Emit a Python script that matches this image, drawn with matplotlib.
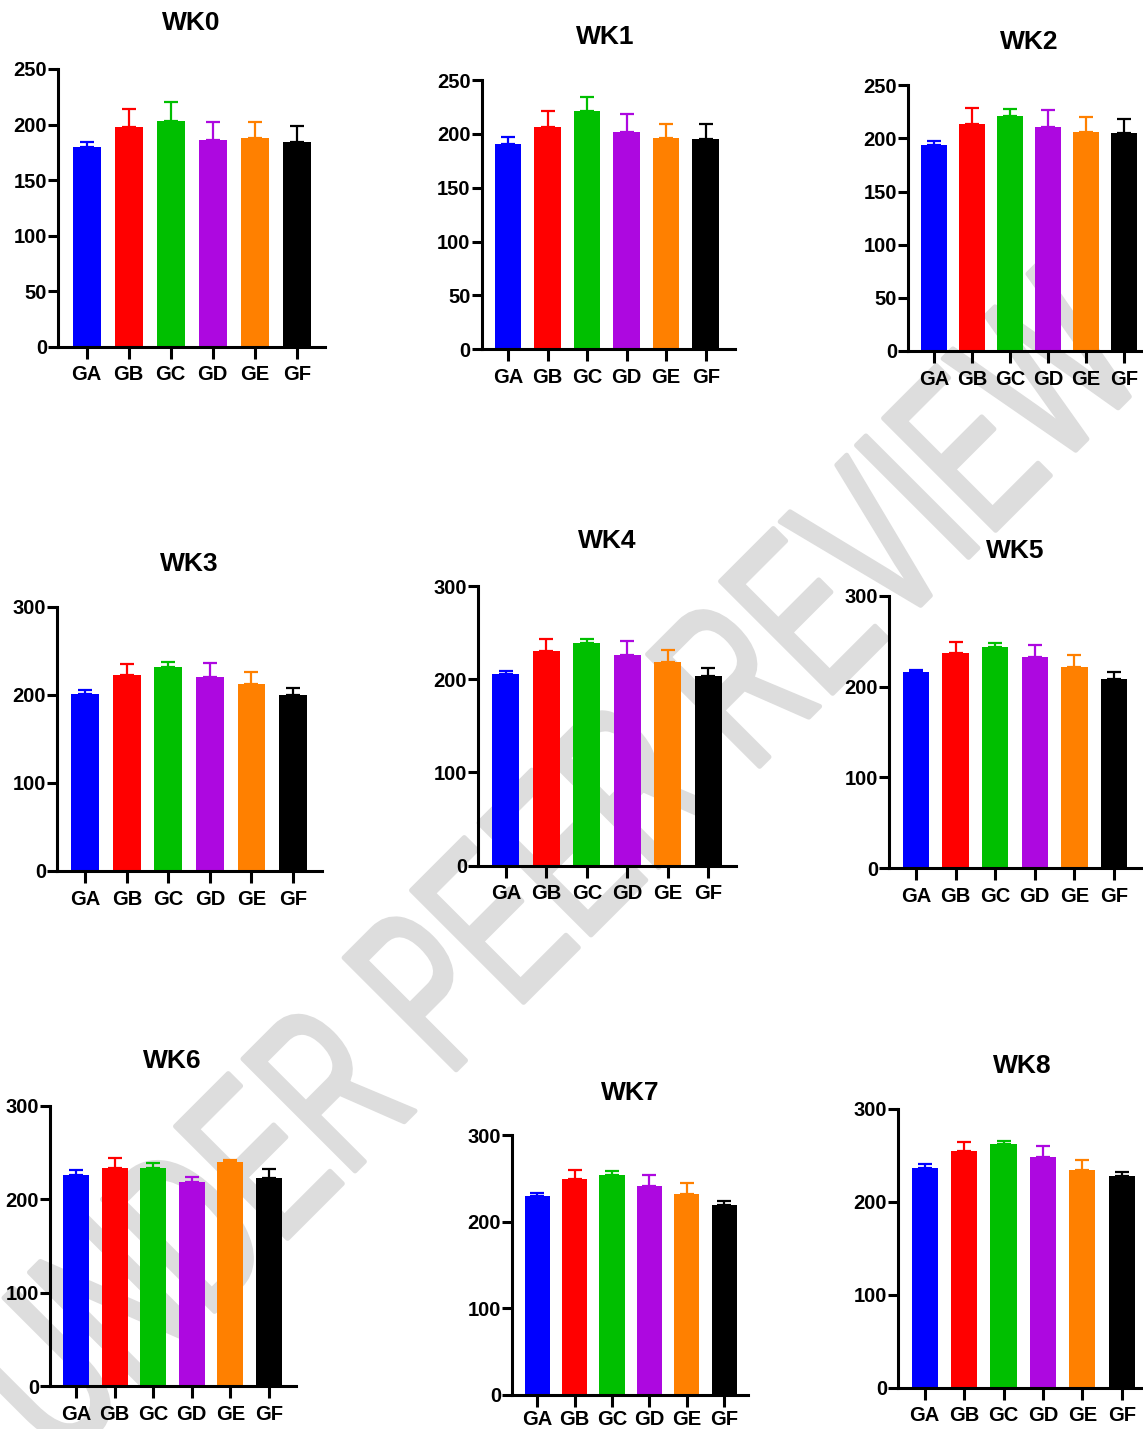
import matplotlib
matplotlib.use("Agg")
import matplotlib.pyplot as plt
from matplotlib.textpath import TextPath
from matplotlib.patches import PathPatch
from matplotlib.font_manager import FontProperties
from matplotlib.transforms import Affine2D, IdentityTransform
import numpy as np

# ---------------- data ----------------
groups = ["GA", "GB", "GC", "GD", "GE", "GF"]
colors = ["#0000FF", "#FF0000", "#00BF00", "#AD08E0", "#FF8000", "#000000"]
titles = ["WK0", "WK1", "WK2", "WK3", "WK4", "WK5", "WK6", "WK7", "WK8"]

wk0_mean = [180, 197.5, 203, 186.5, 188, 184]
wk0_top = [184.5, 214, 220.5, 202, 202, 198.5]
wk1_mean = [191, 206, 221, 201.5, 196.5, 195]
wk1_top = [197, 221, 234, 218, 209, 209.5]
wk2_mean = [194, 214, 221, 211, 206.5, 205]
wk2_top = [198, 228.5, 228, 226.5, 220, 218]
wk3_mean = [200.5, 222, 231.5, 220, 212, 199.5]
wk3_top = [205.5, 235, 237.5, 236.5, 225.5, 208]
wk4_mean = [206, 230, 238.5, 225.5, 218, 204]
wk4_top = [209, 243.5, 243.5, 241, 231.5, 212.5]
wk5_mean = [215.5, 237, 243.5, 232, 221.5, 208.5]
wk5_top = [218.5, 249.5, 248, 246, 235, 216.5]
wk6_mean = [225.5, 233.5, 233, 218, 239.5, 223]
wk6_top = [231, 244, 239, 223.5, 241.5, 232]
wk7_mean = [229.5, 249.5, 254.5, 241, 232, 219]
wk7_top = [233.5, 260, 259, 254.5, 245, 224.5]
wk8_mean = [236, 254.5, 262, 248, 234, 227.5]
wk8_top = [240.5, 265, 266, 260.5, 245.5, 232.5]

y_max = [250, 250, 250, 300, 300, 300, 300, 300, 300]
y_step = [50, 50, 50, 100, 100, 100, 100, 100, 100]

means = [wk0_mean, wk1_mean, wk2_mean, wk3_mean, wk4_mean,
         wk5_mean, wk6_mean, wk7_mean, wk8_mean]
tops = [wk0_top, wk1_top, wk2_top, wk3_top, wk4_top,
        wk5_top, wk6_top, wk7_top, wk8_top]

# ---------------- layout (pixels) ----------------
W, H = 1143, 1429
# left, right, top, bottom, first-bar centre, last-bar centre
layout = [
    (58.3, 325.0, 69.0, 346.7, 86.7, 296.7),
    (481.7, 735.0, 80.0, 349.3, 508.0, 705.7),
    (908.3, 1142.0, 85.3, 351.0, 934.2, 1124.2),
    (57.3, 321.7, 606.7, 871.0, 85.3, 293.0),
    (478.3, 736.0, 586.0, 865.7, 505.8, 708.3),
    (889.3, 1141.7, 595.7, 868.3, 916.0, 1114.0),
    (50.0, 295.7, 1105.7, 1386.0, 76.2, 268.8),
    (512.3, 748.3, 1135.3, 1394.7, 537.2, 724.2),
    (898.3, 1141.7, 1109.0, 1387.7, 924.7, 1121.7),
]
xlabel_pad = [5, 5, 5, 5, 5, 5, 5, 2.5, 5]
title_pos = [(191, 23), (605, 37), (1029, 42), (189, 564), (607, 541),
             (1015, 551), (172, 1061), (630, 1093), (1022, 1066)]

FONT = "Liberation Sans"
plt.rcParams["font.family"] = [FONT, "DejaVu Sans"]

fig = plt.figure(figsize=(W / 100, H / 100), dpi=100)
fig.patch.set_facecolor("white")

# ---------------- watermark ----------------
fp = FontProperties(family=FONT, weight="normal")
tp = TextPath((0, 0), "UNDER PEER REVIEW", size=1, prop=fp)
ext = tp.get_extents()
cap_px = 165.0
length_px = 1530.0
sy = cap_px / 0.716
sx = length_px / ext.width
x0_img, y0_img = 68.0, 1458.0
tr = (Affine2D().translate(-ext.x0, 0).scale(sx, sy).rotate_deg(45)
      .translate(x0_img, H - y0_img))
wm_path = tr.transform_path(tp)
wm = PathPatch(wm_path, facecolor="#DDDDDD", edgecolor="#DDDDDD",
               lw=3.5, joinstyle="round", transform=IdentityTransform(),
               zorder=-5)
fig.add_artist(wm)

# ---------------- panels ----------------
x = np.arange(len(groups))
for i in range(9):
    L, R, T, B, c0, c5 = layout[i]
    sp = (c5 - c0) / 5.0
    ax = fig.add_axes([L / W, 1 - B / H, (R - L) / W, (B - T) / H])
    ax.set_facecolor("none")
    m = np.array(means[i])
    t = np.array(tops[i])
    ax.bar(x, m, width=0.67, color=colors, zorder=2)
    for j in range(len(groups)):
        ax.errorbar(x[j], m[j], yerr=[[0], [t[j] - m[j]]], fmt="none",
                    ecolor=colors[j], elinewidth=1.6, capsize=5.3,
                    capthick=1.6, zorder=3)
    ax.set_xlim(-(c0 - L) / sp, 5 + (R - c5) / sp)
    ax.set_ylim(0, y_max[i])
    ax.set_yticks(np.arange(0, y_max[i] + 1, y_step[i]))
    ax.set_xticks(x)
    ax.set_xticklabels(groups)
    for s in ["top", "right"]:
        ax.spines[s].set_visible(False)
    for s in ["left", "bottom"]:
        ax.spines[s].set_linewidth(2.2)
        ax.spines[s].set_zorder(4)
    ax.tick_params(axis="y", length=7, width=2.2, pad=1,
                   labelsize=14.5)
    ax.tick_params(axis="x", length=8.5, width=2.2, pad=xlabel_pad[i],
                   labelsize=14.5)
    for lab in ax.get_xticklabels() + ax.get_yticklabels():
        lab.set_fontweight("bold")
    tx, ty = title_pos[i]
    fig.text(tx / W, 1 - ty / H, titles[i], ha="center", va="center",
             fontsize=19, fontweight="bold")

fig.savefig("out.png", dpi=100, facecolor="white")
